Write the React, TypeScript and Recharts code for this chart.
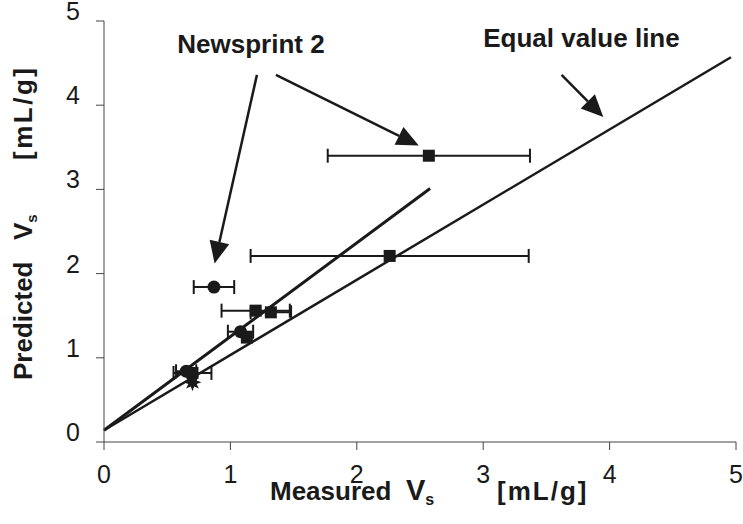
import React from 'react'
import {
  ComposedChart,
  Scatter,
  XAxis,
  YAxis,
  ErrorBar,
  ReferenceLine,
  ReferenceDot,
} from 'recharts'

const TICKS = [0, 1, 2, 3, 4, 5]

// filled squares
const squareX = [2.57, 2.26, 1.2, 1.32, 1.13, 0.7]
const squareY = [3.4, 2.21, 1.56, 1.54, 1.24, 0.82]
const squareErr = [0.8, 1.1, 0.27, 0.16, 0, 0.15]

// filled circles
const circleX = [0.87, 1.08, 0.65]
const circleY = [1.84, 1.31, 0.84]
const circleErr = [0.16, 0.1, 0.08]

// star
const starX = [0.7]
const starY = [0.71]

const equalLine = [
  { x: 0, y: 0.14 },
  { x: 4.96, y: 4.57 },
]
const fitLine = [
  { x: 0, y: 0.14 },
  { x: 2.58, y: 3.01 },
]

const arrows = [
  [{ x: 1.21, y: 4.36 }, { x: 0.875, y: 2.12 }],
  [{ x: 1.36, y: 4.36 }, { x: 2.49, y: 3.52 }],
  [{ x: 3.62, y: 4.36 }, { x: 3.95, y: 3.86 }],
]

const notes = [
  { x: 0.58, y: 4.62, text: 'Newsprint 2' },
  { x: 3.0, y: 4.69, text: 'Equal value line' },
]

const INK = '#1a1a1a'
const FONT = '"Liberation Sans", Arial, sans-serif'

const squares = squareX.map((x, i) => ({ x, y: squareY[i], err: squareErr[i] }))
const circles = circleX.map((x, i) => ({ x, y: circleY[i], err: circleErr[i] }))
const stars = starX.map((x, i) => ({ x, y: starY[i] }))

const Square = (p: any) => <rect x={p.cx - 6} y={p.cy - 6} width={12} height={12} fill={INK} />
const Dot = (p: any) => <circle cx={p.cx} cy={p.cy} r={6.5} fill={INK} />
const Star = (p: any) => {
  const pts: string[] = []
  for (let k = 0; k < 16; k++) {
    const r = k % 2 === 0 ? 9 : 4.5
    const a = (Math.PI / 8) * k - Math.PI / 2
    pts.push(`${p.cx + r * Math.cos(a)},${p.cy + r * Math.sin(a)}`)
  }
  return <polygon points={pts.join(' ')} fill={INK} />
}

const Arrow = (p: any) => {
  const { x1, y1, x2, y2 } = p
  const dx = x2 - x1
  const dy = y2 - y1
  const len = Math.hypot(dx, dy) || 1
  const ux = dx / len
  const uy = dy / len
  const bx = x2 - ux * 22
  const by = y2 - uy * 22
  const pts = `${x2},${y2} ${bx - uy * 10},${by + ux * 10} ${bx + uy * 10},${by - ux * 10}`
  return (
    <g>
      <line x1={x1} y1={y1} x2={bx} y2={by} stroke={INK} strokeWidth={2.5} />
      <polygon points={pts} fill={INK} />
    </g>
  )
}

const XTick = (p: any) => (
  <text x={p.x} y={p.y + 31} textAnchor="middle" fontFamily={FONT} fontSize={25} fill={INK}>
    {p.payload.value}
  </text>
)

const YTick = (p: any) => (
  <text x={80} y={p.y - 1} textAnchor="end" fontFamily={FONT} fontSize={25} fill={INK}>
    {p.payload.value}
  </text>
)

const XTitle = () => (
  <text y={500} fontFamily={FONT} fontSize={26} fontWeight="bold" fill={INK}>
    <tspan x={270}>Measured</tspan>
    <tspan x={406} fontSize={29}>V</tspan>
    <tspan fontSize={16} dy={5}>s</tspan>
    <tspan x={497} dy={-5} letterSpacing={2}>[mL/g]</tspan>
  </text>
)

const YTitle = () => (
  <text
    transform="translate(32, 380) rotate(-90)"
    fontFamily={FONT}
    fontSize={26}
    fontWeight="bold"
    fill={INK}
  >
    <tspan x={0}>Predicted</tspan>
    <tspan x={140}>V</tspan>
    <tspan fontSize={15} dy={5}>s</tspan>
    <tspan x={220} dy={-5} letterSpacing={2.5}>[mL/g]</tspan>
  </text>
)

export default function App() {
  return (
    <div style={{ position: 'absolute', left: 0, top: 0, background: '#fff' }}>
      <ComposedChart
        width={743}
        height={524}
        margin={{ top: 21, right: 7, bottom: 0, left: 0 }}
      >
        <XAxis
          type="number"
          dataKey="x"
          domain={[0, 5]}
          ticks={TICKS}
          height={82}
          tickSize={8}
          axisLine={{ stroke: '#444', strokeWidth: 1 }}
          tickLine={{ stroke: '#444', strokeWidth: 1 }}
          tick={<XTick />}
          label={<XTitle />}
        />
        <YAxis
          type="number"
          dataKey="y"
          domain={[0, 5]}
          ticks={TICKS}
          width={104}
          tickSize={8}
          axisLine={{ stroke: '#444', strokeWidth: 1 }}
          tickLine={{ stroke: '#444', strokeWidth: 1 }}
          tick={<YTick />}
          label={<YTitle />}
        />
        <ReferenceLine segment={equalLine} stroke={INK} strokeWidth={2.5} />
        <ReferenceLine segment={fitLine} stroke={INK} strokeWidth={3} />
        {arrows.map((seg, i) => (
          <ReferenceLine key={`a${i}`} segment={seg} shape={Arrow} />
        ))}
        {notes.map((n, i) => (
          <ReferenceDot
            key={`n${i}`}
            x={n.x}
            y={n.y}
            shape={(p: any) => (
              <text x={p.cx} y={p.cy} fontFamily={FONT} fontSize={26} fontWeight="bold" fill={INK}>
                {n.text}
              </text>
            )}
          />
        ))}
        <Scatter data={squares} shape={Square} isAnimationActive={false}>
          <ErrorBar dataKey="err" direction="x" width={7} stroke={INK} strokeWidth={2} />
        </Scatter>
        <Scatter data={circles} shape={Dot} isAnimationActive={false}>
          <ErrorBar dataKey="err" direction="x" width={7} stroke={INK} strokeWidth={2} />
        </Scatter>
        <Scatter data={stars} shape={Star} isAnimationActive={false} />
      </ComposedChart>
    </div>
  )
}
